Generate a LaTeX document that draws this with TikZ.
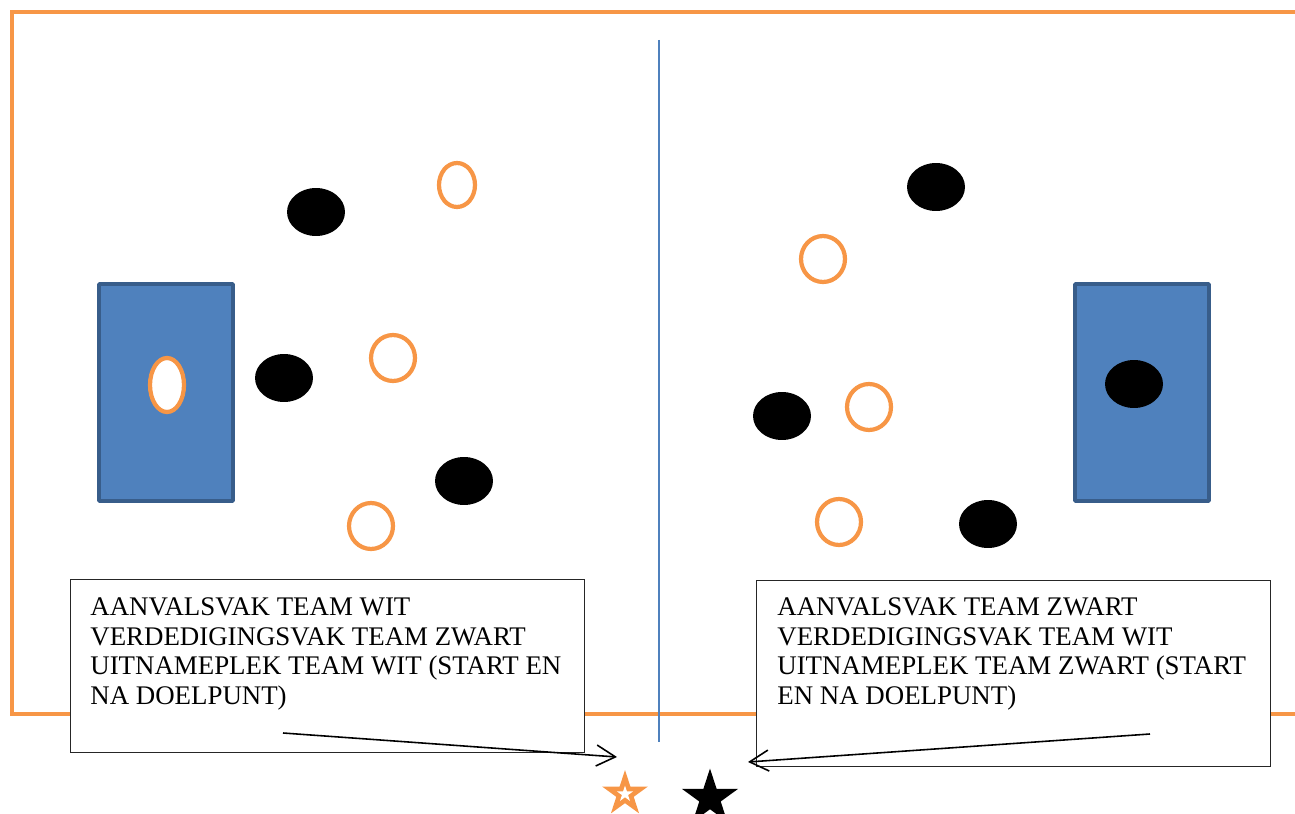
\documentclass[tikz,border=0pt]{standalone}
\usepackage{fontspec}
\setmainfont{Liberation Serif}
\usetikzlibrary{shapes.geometric,arrows.meta}
\definecolor{oranje}{RGB}{247,150,70}
\definecolor{veldblauw}{RGB}{79,129,189}
\definecolor{doelrand}{RGB}{56,93,138}

\begin{document}
\begin{tikzpicture}[x=0.02cm,y=-0.02cm,
  zwart/.style={ellipse,fill=black,minimum width=1.16cm,minimum height=0.96cm,inner sep=0pt},
  wit/.style={ellipse,draw=oranje,line width=2.4pt,fill=white,inner sep=0pt},
  doel/.style={draw=doelrand,fill=veldblauw,line width=2.2pt,rounded corners=0.5pt},
  tekstvak/.style={draw=black!85,fill=white,line width=0.8pt,minimum width=10.28cm,inner sep=0pt,anchor=north west},
  tekst/.style={align=left,inner sep=0pt,anchor=north west,font=\fontsize{15.3}{17}\selectfont},
  ster/.style={star,star points=5,star point ratio=2.618,inner sep=0pt},
  pijl/.style={line width=0.9pt,-{Straight Barb[length=3.8mm,width=4.2mm]}}]
\useasboundingbox (0,0) rectangle (1295,814);

\draw [oranje, line width=2.8pt] (1295,12) -- (12,12) -- (12,714) -- (1295,714);
\draw [veldblauw, line width=0.8pt] (659,40) -- (659,742);

\draw [doel] (99,284) rectangle (233,501);
\draw [doel] (1075,284) rectangle (1209,501);

\node[zwart] (z1) at (316,212) {};
\node[zwart] (z2) at (284,378) {};
\node[zwart] (z3) at (464,481) {};
\node[wit,minimum width=0.72cm,minimum height=0.88cm] (w1) at (457,185) {};
\node[wit,minimum width=0.88cm,minimum height=0.92cm] (w2) at (393,358) {};
\node[wit,minimum width=0.88cm,minimum height=0.92cm] (w3) at (371,526) {};
\node[wit,minimum width=0.68cm,minimum height=1.08cm] (wdoel) at (167,385) {};

\node[zwart] (z4) at (936,187) {};
\node[zwart] (z5) at (782,416) {};
\node[zwart] (z6) at (988,524) {};
\node[zwart] (zdoel) at (1134,384) {};
\node[wit,minimum width=0.88cm,minimum height=0.92cm] (w4) at (823,259) {};
\node[wit,minimum width=0.88cm,minimum height=0.92cm] (w5) at (869,407) {};
\node[wit,minimum width=0.88cm,minimum height=0.92cm] (w6) at (839,522) {};

\node[tekstvak,minimum height=3.46cm] (vakwit) at (70,579) {};
\node[tekst] (tekstwit) at ([shift={(20,18)}]vakwit.north west)
  {AANVALSVAK TEAM WIT\\VERDEDIGINGSVAK TEAM ZWART\\UITNAMEPLEK TEAM WIT (START EN\\NA DOELPUNT)};
\node[tekstvak,minimum height=3.72cm] (vakzwart) at (756,580) {};
\node[tekst] (tekstzwart) at ([shift={(21,17)}]vakzwart.north west)
  {AANVALSVAK TEAM ZWART\\VERDEDIGINGSVAK TEAM WIT\\UITNAMEPLEK TEAM ZWART (START\\EN NA DOELPUNT)};

\node[ster,fill=oranje,minimum size=0.96cm] (sterwit) at (625,794) {};
\node[ster,fill=white,minimum size=0.34cm] (sterwitbinnen) at (sterwit.center) {};
\node[ster,fill=black,minimum size=1.18cm] (sterzwart) at (710,798) {};

\coordinate (pijlwit) at (283,733);
\coordinate (eindwit) at (617,757);
\coordinate (pijlzwart) at (1150,734);
\coordinate (eindzwart) at (748,762);
\draw [pijl] (pijlwit) -- (eindwit);
\draw [pijl] (pijlzwart) -- (eindzwart);
\end{tikzpicture}
\end{document}
